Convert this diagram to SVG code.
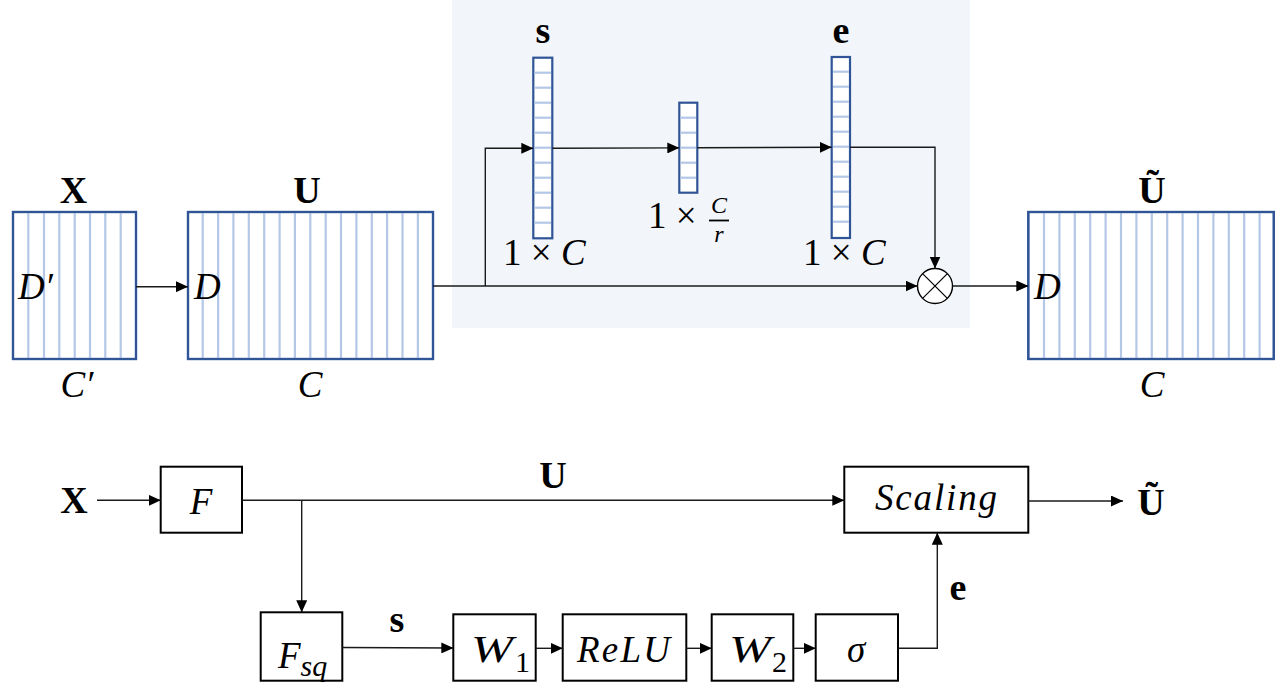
<svg xmlns="http://www.w3.org/2000/svg" width="1275" height="685" viewBox="0 0 1275 685">
<style>
.t{font-family:"Liberation Serif",serif;fill:#000}
.b{font-weight:bold;font-size:38px}
.i{font-style:italic;font-size:37px}
.n{font-size:37px}
.ten{fill:#fff;stroke:#2F5597;stroke-width:2.2}
.str{stroke:#B4C7E7;stroke-width:2.2}
.box{fill:#fff;stroke:#000;stroke-width:2}
.ln{fill:none;stroke:#1a1a1a;stroke-width:1.4}
</style>
<defs>
<marker id="ah" markerUnits="userSpaceOnUse" markerWidth="12" markerHeight="11" refX="12" refY="5.5" orient="auto">
<path d="M0,0 L12,5.5 L0,11 z" fill="#000"/>
</marker>
</defs>
<rect x="0" y="0" width="1275" height="685" fill="#fff"/>
<rect id="panel" x="452" y="0" width="518" height="328" fill="#F2F5FA"/>

<g id="X">
<rect class="ten" x="13" y="212" width="123" height="147"/>
<g class="str">
<line x1="28.3" y1="213" x2="28.3" y2="358"/><line x1="44" y1="213" x2="44" y2="358"/><line x1="59.3" y1="213" x2="59.3" y2="358"/><line x1="74.7" y1="213" x2="74.7" y2="358"/><line x1="90" y1="213" x2="90" y2="358"/><line x1="105.3" y1="213" x2="105.3" y2="358"/><line x1="120.7" y1="213" x2="120.7" y2="358"/>
</g>
<rect x="13" y="212" width="123" height="147" fill="none" stroke="#2F5597" stroke-width="2.2"/>
<text class="t b" x="73.5" y="203" text-anchor="middle">X</text>
<text class="t i" x="18" y="299">D′</text>
<text class="t i" x="77" y="397" text-anchor="middle">C′</text>
</g>

<g id="U">
<rect class="ten" x="188" y="212" width="245" height="147"/>
<g class="str">
<line x1="202.7" y1="213" x2="202.7" y2="358"/><line x1="218.1" y1="213" x2="218.1" y2="358"/><line x1="233.4" y1="213" x2="233.4" y2="358"/><line x1="248.8" y1="213" x2="248.8" y2="358"/><line x1="264.2" y1="213" x2="264.2" y2="358"/><line x1="279.6" y1="213" x2="279.6" y2="358"/><line x1="294.9" y1="213" x2="294.9" y2="358"/><line x1="310.3" y1="213" x2="310.3" y2="358"/><line x1="325.7" y1="213" x2="325.7" y2="358"/><line x1="341" y1="213" x2="341" y2="358"/><line x1="356.4" y1="213" x2="356.4" y2="358"/><line x1="371.8" y1="213" x2="371.8" y2="358"/><line x1="387.1" y1="213" x2="387.1" y2="358"/><line x1="402.5" y1="213" x2="402.5" y2="358"/><line x1="417.9" y1="213" x2="417.9" y2="358"/>
</g>
<rect x="188" y="212" width="245" height="147" fill="none" stroke="#2F5597" stroke-width="2.2"/>
<text class="t b" x="307" y="203" text-anchor="middle">U</text>
<text class="t i" x="194" y="299">D</text>
<text class="t i" x="310" y="397" text-anchor="middle">C</text>
</g>

<g id="Ut">
<rect class="ten" x="1028.3" y="212" width="245.5" height="147"/>
<g class="str">
<line x1="1044" y1="213" x2="1044" y2="358"/><line x1="1059.4" y1="213" x2="1059.4" y2="358"/><line x1="1074.8" y1="213" x2="1074.8" y2="358"/><line x1="1090.2" y1="213" x2="1090.2" y2="358"/><line x1="1105.6" y1="213" x2="1105.6" y2="358"/><line x1="1121" y1="213" x2="1121" y2="358"/><line x1="1136.4" y1="213" x2="1136.4" y2="358"/><line x1="1151.8" y1="213" x2="1151.8" y2="358"/><line x1="1167.2" y1="213" x2="1167.2" y2="358"/><line x1="1182.6" y1="213" x2="1182.6" y2="358"/><line x1="1198" y1="213" x2="1198" y2="358"/><line x1="1213.4" y1="213" x2="1213.4" y2="358"/><line x1="1228.8" y1="213" x2="1228.8" y2="358"/><line x1="1244.2" y1="213" x2="1244.2" y2="358"/><line x1="1259.6" y1="213" x2="1259.6" y2="358"/>
</g>
<rect x="1028.3" y="212" width="245.5" height="147" fill="none" stroke="#2F5597" stroke-width="2.2"/>
<text class="t b" x="1152" y="203" text-anchor="middle">Ũ</text>
<text class="t i" x="1034" y="299">D</text>
<text class="t i" x="1152" y="397" text-anchor="middle">C</text>
</g>

<g id="s_vec">
<rect class="ten" x="533.3" y="57.7" width="19" height="180.6"/>
<g class="str">
<line x1="534.5" y1="72.7" x2="551" y2="72.7"/><line x1="534.5" y1="87.7" x2="551" y2="87.7"/><line x1="534.5" y1="102.7" x2="551" y2="102.7"/><line x1="534.5" y1="117.7" x2="551" y2="117.7"/><line x1="534.5" y1="132.7" x2="551" y2="132.7"/><line x1="534.5" y1="147.7" x2="551" y2="147.7"/><line x1="534.5" y1="162.7" x2="551" y2="162.7"/><line x1="534.5" y1="177.7" x2="551" y2="177.7"/><line x1="534.5" y1="192.7" x2="551" y2="192.7"/><line x1="534.5" y1="207.7" x2="551" y2="207.7"/><line x1="534.5" y1="222.7" x2="551" y2="222.7"/>
</g>
<text class="t b" x="543" y="43" text-anchor="middle">s</text>
<text class="t n" x="503" y="265">1 × <tspan font-style="italic">C</tspan></text>
</g>

<g id="mid_vec">
<rect class="ten" x="679.3" y="102.7" width="18" height="90"/>
<g class="str">
<line x1="680.5" y1="117.7" x2="696" y2="117.7"/><line x1="680.5" y1="132.7" x2="696" y2="132.7"/><line x1="680.5" y1="147.7" x2="696" y2="147.7"/><line x1="680.5" y1="162.7" x2="696" y2="162.7"/><line x1="680.5" y1="177.7" x2="696" y2="177.7"/>
</g>
<text class="t n" x="648" y="228">1 ×</text>
<text class="t" x="719" y="213" text-anchor="middle" font-size="24" font-style="italic">C</text>
<line x1="709" y1="220.5" x2="729" y2="220.5" stroke="#000" stroke-width="1.8"/>
<text class="t" x="719" y="242" text-anchor="middle" font-size="24" font-style="italic">r</text>
</g>

<g id="e_vec">
<rect class="ten" x="831.7" y="57" width="18.3" height="181"/>
<g class="str">
<line x1="833" y1="71.7" x2="849" y2="71.7"/><line x1="833" y1="86.7" x2="849" y2="86.7"/><line x1="833" y1="101.7" x2="849" y2="101.7"/><line x1="833" y1="116.7" x2="849" y2="116.7"/><line x1="833" y1="131.7" x2="849" y2="131.7"/><line x1="833" y1="146.7" x2="849" y2="146.7"/><line x1="833" y1="161.7" x2="849" y2="161.7"/><line x1="833" y1="176.7" x2="849" y2="176.7"/><line x1="833" y1="191.7" x2="849" y2="191.7"/><line x1="833" y1="206.7" x2="849" y2="206.7"/><line x1="833" y1="221.7" x2="849" y2="221.7"/>
</g>
<text class="t b" x="841" y="43" text-anchor="middle">e</text>
<text class="t n" x="803" y="265">1 × <tspan font-style="italic">C</tspan></text>
</g>

<g id="mult">
<circle cx="935" cy="286" r="17.5" fill="#fff" stroke="#000" stroke-width="1.4"/>
<line x1="922.6" y1="273.6" x2="947.4" y2="298.4" stroke="#000" stroke-width="1.2"/>
<line x1="947.4" y1="273.6" x2="922.6" y2="298.4" stroke="#000" stroke-width="1.2"/>
</g>

<g id="bX"><text class="t b" x="74" y="513" text-anchor="middle">X</text></g>
<g id="bF"><rect class="box" x="160.7" y="466.7" width="81.3" height="66"/><text class="t i" x="201" y="514" text-anchor="middle">F</text></g>
<g id="bFsq"><rect class="box" x="260.7" y="612.3" width="81.6" height="68.4"/><text class="t i" x="278" y="668">F<tspan font-size="30" dy="8">sq</tspan></text></g>
<g id="bW1"><rect class="box" x="453.3" y="614.3" width="82.4" height="66.4"/><text class="t i" x="471" y="662" textLength="42" lengthAdjust="spacingAndGlyphs">W</text><text class="t" x="515" y="672" font-size="30">1</text></g>
<g id="bReLU"><rect class="box" x="562.7" y="614.3" width="123.6" height="66.4"/><text class="t i" x="577" y="662" textLength="93" lengthAdjust="spacing">ReLU</text></g>
<g id="bW2"><rect class="box" x="711.7" y="614.3" width="81.6" height="66.4"/><text class="t i" x="729" y="662" textLength="42" lengthAdjust="spacingAndGlyphs">W</text><text class="t" x="772" y="672" font-size="30">2</text></g>
<g id="bSigma"><rect class="box" x="815.7" y="614.3" width="82.3" height="66.4"/><text class="t i" x="856" y="662" text-anchor="middle">σ</text></g>
<g id="bScaling"><rect class="box" x="844.3" y="466.7" width="184" height="66"/><text class="t i" x="875" y="510" textLength="122" lengthAdjust="spacing">Scaling</text></g>
<g id="bUt"><text class="t b" x="1151" y="515" text-anchor="middle">Ũ</text></g>
<g id="bLabels">
<text class="t b" x="553" y="488" text-anchor="middle">U</text>
<text class="t b" x="397" y="632" text-anchor="middle">s</text>
<text class="t b" x="958" y="600" text-anchor="middle">e</text>
</g>

<g id="connectors">
<path class="ln" d="M136,286.7 L188,286.7" marker-end="url(#ah)"/>
<path class="ln" d="M433,286 L917.5,286" marker-end="url(#ah)"/>
<path class="ln" d="M485.3,286 L485.3,148.3 L533.3,148.3" marker-end="url(#ah)"/>
<path class="ln" d="M552.3,148.3 L679.3,147.9" marker-end="url(#ah)"/>
<path class="ln" d="M697.3,147.7 L831.7,147.3" marker-end="url(#ah)"/>
<path class="ln" d="M850,147.3 L935,147.3 L935,268.5" marker-end="url(#ah)"/>
<path class="ln" d="M952.5,286 L1028.3,286" marker-end="url(#ah)"/>
<path class="ln" d="M97,500.3 L160.7,500.3" marker-end="url(#ah)"/>
<path class="ln" d="M242,500.3 L844.3,500.3" marker-end="url(#ah)"/>
<path class="ln" d="M301.7,500.3 L301.7,612.3" marker-end="url(#ah)"/>
<path class="ln" d="M342.3,647.5 L453.3,648" marker-end="url(#ah)"/>
<path class="ln" d="M535.7,648.3 L562.7,648.3" marker-end="url(#ah)"/>
<path class="ln" d="M686.3,648.3 L711.7,648.3" marker-end="url(#ah)"/>
<path class="ln" d="M793.3,648.3 L815.7,648.3" marker-end="url(#ah)"/>
<path class="ln" d="M898,648.3 L937.3,648.3 L937.3,532.7" marker-end="url(#ah)"/>
<path class="ln" d="M1028.3,501 L1123,501" marker-end="url(#ah)"/>
</g>
</svg>
